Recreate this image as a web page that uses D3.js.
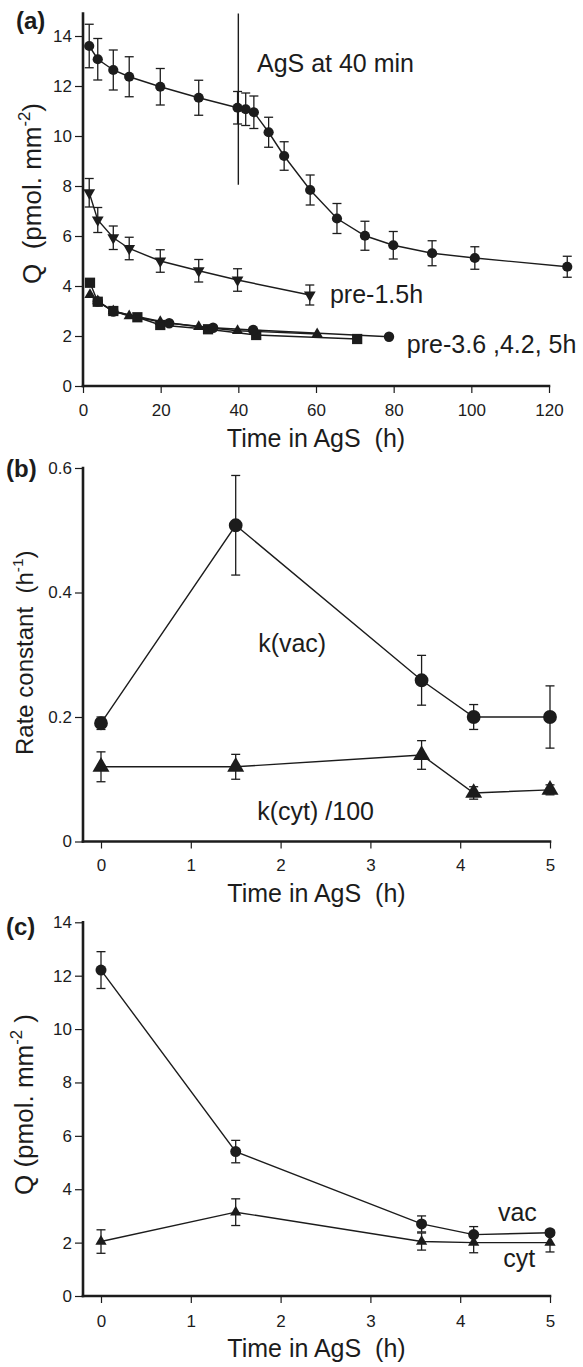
<!DOCTYPE html>
<html><head><meta charset="utf-8">
<script src="https://cdn.jsdelivr.net/npm/d3@7/dist/d3.min.js"></script>
<style>
body{margin:0;background:#fff}
text{font-family:"Liberation Sans",Arial,Helvetica,sans-serif;fill:#1c1c1c}
</style>
</head><body>
<svg id="chart" width="583" height="1367"></svg>
<script>
// ---------- Panel (a) data ----------
const aTicksX = [0, 20, 40, 60, 80, 100, 120];
const aTicksY = [0, 2, 4, 6, 8, 10, 12, 14];
const aMainT   = [1.6, 3.8, 7.8, 11.9, 19.9, 29.8, 39.8, 41.9, 44.0, 47.8, 51.8, 58.5, 65.4, 72.6, 79.9, 89.9, 100.9, 124.7];
const aMainQ   = [13.6, 13.07, 12.64, 12.37, 11.97, 11.53, 11.13, 11.07, 10.95, 10.15, 9.2, 7.84, 6.7, 6.01, 5.63, 5.31, 5.12, 4.77];
const aMainErr = [0.87, 0.83, 0.8, 0.8, 0.73, 0.7, 0.65, 0.65, 0.65, 0.6, 0.57, 0.6, 0.6, 0.58, 0.55, 0.5, 0.45, 0.42];
const aPre15T   = [1.6, 3.8, 7.8, 11.9, 19.9, 29.8, 39.8, 58.4];
const aPre15Q   = [7.73, 6.64, 5.93, 5.5, 5.0, 4.61, 4.24, 3.64];
const aPre15Err = [0.57, 0.5, 0.47, 0.45, 0.45, 0.45, 0.45, 0.4];
const aPre36T = [1.8, 3.8, 7.8, 11.9, 19.9, 29.8, 39.8, 60.3];
const aPre36Q = [3.65, 3.4, 3.0, 2.8, 2.57, 2.37, 2.21, 2.08];
const aPre42T = [1.8, 3.8, 7.8, 14.0, 19.9, 32.2, 44.6, 70.6];
const aPre42Q = [4.13, 3.37, 3.0, 2.75, 2.44, 2.27, 2.04, 1.88];
const aPre5T  = [3.8, 7.8, 22.2, 33.5, 43.8, 78.8];
const aPre5Q  = [3.38, 2.98, 2.51, 2.33, 2.24, 1.97];
const aAgSLineT = 40;
const aAgSLineQ = [8.05, 14.9];

// ---------- Panel (b) data ----------
const bTicksX = [0, 1, 2, 3, 4, 5];
const bTicksY = [0, 0.2, 0.4, 0.6];
const bTickLabelsY = ["0", "0.2", "0.4", "0.6"];
const bTimes  = [0, 1.5, 3.57, 4.15, 5];
const bVac    = [0.19, 0.508, 0.259, 0.2, 0.2];
const bVacErr = [0.01, 0.08, 0.04, 0.02, 0.05];
const bCyt    = [0.12, 0.12, 0.139, 0.078, 0.083];
const bCytErr = [0.024, 0.02, 0.023, 0.01, 0.008];

// ---------- Panel (c) data ----------
const cTicksX = [0, 1, 2, 3, 4, 5];
const cTicksY = [0, 2, 4, 6, 8, 10, 12, 14];
const cTimes  = [0, 1.5, 3.57, 4.15, 5];
const cVac    = [12.21, 5.41, 2.70, 2.30, 2.37];
const cVacErr = [0.69, 0.42, 0.3, 0.3, 0.1];
const cCyt    = [2.04, 3.14, 2.04, 2.0, 2.0];
const cCytErr = [0.44, 0.5, 0.32, 0.38, 0.35];

const svg = d3.select("#chart");
const INK = "#1c1c1c";
const AX_LEFT = 83;

function zip(ts, vs, es) { return ts.map((t, i) => ({t, v: vs[i], e: es ? es[i] : 0})); }

function drawAxes(g, x, y, opt) {
  const yAx = d3.axisLeft(y).tickValues(opt.yTicks).tickSize(8).tickPadding(3).tickSizeOuter(0);
  if (opt.yFormat) yAx.tickFormat(opt.yFormat);
  const gy = g.append("g").attr("transform", `translate(${AX_LEFT},0)`).call(yAx);
  const xAx = d3.axisBottom(x).tickValues(opt.xTicks).tickSize(7).tickPadding(opt.xPad).tickSizeOuter(0).tickFormat(d3.format("d"));
  const gx = g.append("g").attr("transform", `translate(0,${y(0)})`).call(xAx);
  [gx, gy].forEach(a => {
    a.select(".domain").remove();
    a.selectAll(".tick line").attr("stroke", INK).attr("stroke-width", 1.2);
    a.selectAll(".tick text").attr("font-size", 17).attr("fill", INK)
      .style("font-family", '"Liberation Sans",Arial,sans-serif');
  });
  g.append("line").attr("x1", AX_LEFT).attr("x2", AX_LEFT)
    .attr("y1", y.range()[0]).attr("y2", y.range()[1])
    .attr("stroke", INK).attr("stroke-width", 2.6).attr("stroke-linecap", "square");
  g.append("line").attr("x1", AX_LEFT).attr("x2", x.range()[1])
    .attr("y1", y(0)).attr("y2", y(0))
    .attr("stroke", INK).attr("stroke-width", 2.6).attr("stroke-linecap", "square");
}

function xTitle(g, x, baseline) {
  g.append("text").attr("x", (AX_LEFT + x.range()[1]) / 2).attr("y", baseline)
    .attr("text-anchor", "middle").attr("font-size", 25).style("white-space", "pre")
    .text("Time in AgS  (h)");
}

// rotated title, starting (bottom end) at y = startY, baseline at x = bx
function yTitle(g, bx, startY, size, pre, sup, post) {
  const t = g.append("text").attr("transform", `translate(${bx},${startY}) rotate(-90)`)
    .attr("text-anchor", "start").attr("font-size", size).style("white-space", "pre");
  t.append("tspan").text(pre);
  t.append("tspan").attr("font-size", size * 0.64).attr("dy", -size * 0.42).text(sup);
  t.append("tspan").attr("dy", size * 0.42).text(post);
}

function panelLabel(g, x, y, s) {
  g.append("text").attr("x", x).attr("y", y).attr("font-size", 24).attr("font-weight", "bold").text(s);
}

function series(g, x, y, data, symType, size, rot, errs) {
  g.append("path").datum(data)
    .attr("d", d3.line().x(d => x(d.t)).y(d => y(d.v)))
    .attr("fill", "none").attr("stroke", INK).attr("stroke-width", 1.4);
  if (errs) {
    const eb = g.append("g").selectAll("g").data(data.filter(d => d.e > 0)).join("g")
      .attr("stroke", INK).attr("stroke-width", 1.3);
    eb.append("line").attr("x1", d => x(d.t)).attr("x2", d => x(d.t))
      .attr("y1", d => y(d.v - d.e)).attr("y2", d => y(d.v + d.e));
    eb.append("line").attr("x1", d => x(d.t) - 4.5).attr("x2", d => x(d.t) + 4.5)
      .attr("y1", d => y(d.v - d.e)).attr("y2", d => y(d.v - d.e));
    eb.append("line").attr("x1", d => x(d.t) - 4.5).attr("x2", d => x(d.t) + 4.5)
      .attr("y1", d => y(d.v + d.e)).attr("y2", d => y(d.v + d.e));
  }
  g.append("g").selectAll("path").data(data).join("path")
    .attr("d", d3.symbol().type(symType).size(size))
    .attr("transform", d => `translate(${x(d.t)},${y(d.v)}) rotate(${rot})`)
    .attr("fill", INK);
}

// ================= Panel (a) =================
{
  const g = svg.append("g");
  const x = d3.scaleLinear().domain([0, 120]).range([AX_LEFT, 549]);
  const y = d3.scaleLinear().domain([0, 14.9]).range([386, 13.5]);
  drawAxes(g, x, y, {xTicks: aTicksX, yTicks: aTicksY, xPad: 11});
  g.append("line").attr("x1", x(aAgSLineT)).attr("x2", x(aAgSLineT))
    .attr("y1", y(aAgSLineQ[0])).attr("y2", y(aAgSLineQ[1]))
    .attr("stroke", INK).attr("stroke-width", 1.4);
  series(g, x, y, zip(aPre36T, aPre36Q), d3.symbolTriangle, 55, 0, false);
  series(g, x, y, zip(aPre42T, aPre42Q), d3.symbolSquare, 105, 0, false);
  series(g, x, y, zip(aPre5T, aPre5Q), d3.symbolCircle, 85, 0, false);
  series(g, x, y, zip(aPre15T, aPre15Q, aPre15Err), d3.symbolTriangle, 60, 180, true);
  series(g, x, y, zip(aMainT, aMainQ, aMainErr), d3.symbolCircle, 82, 0, true);
  g.append("text").attr("x", x(44.8)).attr("y", y(12.56)).attr("font-size", 25).text("AgS at 40 min");
  g.append("text").attr("x", x(63.6)).attr("y", y(3.32)).attr("font-size", 25).text("pre-1.5h");
  g.append("text").attr("x", x(83.4)).attr("y", y(1.33)).attr("font-size", 25).style("white-space", "pre").text("pre-3.6 ,4.2, 5h");
  xTitle(g, x, 447);
  yTitle(g, 41, 284, 26, "Q  (pmol. mm", "-2", ")");
  panelLabel(g, 16, 29, "(a)");
}

// ================= Panel (b) =================
{
  const g = svg.append("g");
  const x = d3.scaleLinear().domain([0, 5]).range([101, 550]);
  const y = d3.scaleLinear().domain([0, 0.6]).range([841.5, 468]);
  drawAxes(g, x, y, {xTicks: bTicksX, yTicks: bTicksY, xPad: 10,
    yFormat: (d, i) => bTickLabelsY[i]});
  series(g, x, y, zip(bTimes, bCyt, bCytErr), d3.symbolTriangle, 125, 0, true);
  series(g, x, y, zip(bTimes, bVac, bVacErr), d3.symbolCircle, 150, 0, true);
  g.append("text").attr("x", x(1.75)).attr("y", y(0.3044)).attr("font-size", 25).text("k(vac)");
  g.append("text").attr("x", x(1.74)).attr("y", y(0.0345)).attr("font-size", 25).text("k(cyt) /100");
  xTitle(g, x, 902);
  yTitle(g, 33, 755, 24, "Rate constant  (h", "-1", ")");
  panelLabel(g, 6, 477, "(b)");
}

// ================= Panel (c) =================
{
  const g = svg.append("g");
  const x = d3.scaleLinear().domain([0, 5]).range([101, 550]);
  const y = d3.scaleLinear().domain([0, 14]).range([1296, 922.3]);
  drawAxes(g, x, y, {xTicks: cTicksX, yTicks: cTicksY, xPad: 12});
  series(g, x, y, zip(cTimes, cCyt, cCytErr), d3.symbolTriangle, 55, 0, true);
  series(g, x, y, zip(cTimes, cVac, cVacErr), d3.symbolCircle, 95, 0, true);
  g.append("text").attr("x", x(4.42)).attr("y", y(2.82)).attr("font-size", 25).text("vac");
  g.append("text").attr("x", x(4.48)).attr("y", y(1.09)).attr("font-size", 25).text("cyt");
  xTitle(g, x, 1357);
  yTitle(g, 33, 1195, 26, "Q (pmol. mm", "-2", " )");
  panelLabel(g, 6, 935, "(c)");
}
</script>
</body></html>
